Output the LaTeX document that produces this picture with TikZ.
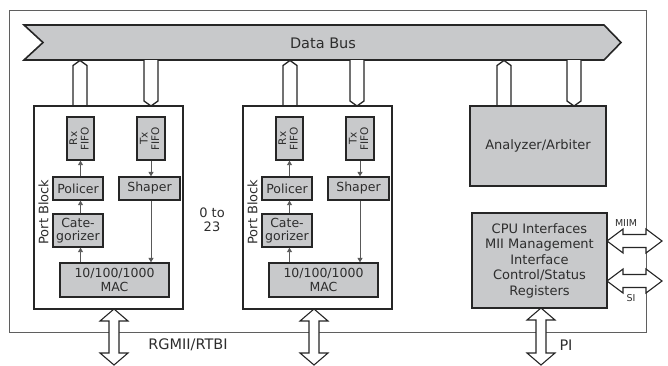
\documentclass[tikz,border=0pt]{standalone}
\usepackage{fontspec}
\setmainfont{DejaVu Sans}
\usepackage{graphicx}
\usetikzlibrary{arrows.meta}
\definecolor{boxgray}{RGB}{200,201,203}
\definecolor{txt}{RGB}{45,45,45}
\definecolor{framegray}{RGB}{95,95,95}
\tikzset{
  box/.style={draw=black!85, line width=1.3pt, fill=boxgray, inner sep=0pt, align=center, text=txt, font=\fontsize{12.5}{13.5}\selectfont},
  blockbox/.style={draw=black!85, line width=1.1pt, fill=white, inner sep=0pt},
  flow/.style={draw=black!65, line width=0.9pt, -{Triangle[length=4.5pt,width=5pt]}},
  busarr/.style={draw=black!85, line width=1.3pt, fill=white},
  dblarr/.style={draw=black!85, line width=1.1pt, fill=white},
  lbl/.style={inner sep=0pt, text=txt, align=center, font=\fontsize{13}{14}\selectfont},
  small/.style={inner sep=0pt, text=txt, font=\fontsize{9.5}{10}\selectfont},
}
\newcommand\busUp[3]{\filldraw[busarr] (#1,#3) -- (#1,#2+5) -- (#1+7,#2) -- (#1+14,#2+5) -- (#1+14,#3);}
\newcommand\busDown[3]{\filldraw[busarr] (#1,#2) -- (#1,#3-5) -- (#1+7,#3) -- (#1+14,#3-5) -- (#1+14,#2);}
\newcommand\vdarrow[3]{\filldraw[dblarr] (#1-5,#2+12) -- (#1-14,#2+12) -- (#1,#2) -- (#1+14,#2+12) -- (#1+5,#2+12) -- (#1+5,#3-12) -- (#1+14,#3-12) -- (#1,#3) -- (#1-14,#3-12) -- (#1-5,#3-12) -- cycle;}
\newcommand\hdarrow[3]{\filldraw[dblarr] (#1,#3) -- (#1+16,#3-12) -- (#1+16,#3-6.5) -- (#2-16,#3-6.5) -- (#2-16,#3-12) -- (#2,#3) -- (#2-16,#3+12) -- (#2-16,#3+6.5) -- (#1+16,#3+6.5) -- (#1+16,#3+12) -- cycle;}
\newcommand\fifo[2]{\rotatebox[origin=c]{90}{\fontsize{10.5}{11.5}\selectfont\begin{tabular}{@{}c@{}}#1\\#2\end{tabular}}}
\begin{document}
\begin{tikzpicture}[x=1pt,y=-1pt]
\useasboundingbox (0,0) rectangle (668,365);
% outer frame
\draw[framegray, line width=1pt] (9,10) rectangle (646,332);
% data bus
\filldraw[draw=black!85, line width=1.6pt, fill=boxgray, line join=miter] (24,25) -- (604,25) -- (621,42.5) -- (604,60) -- (24,60) -- (43,42.5) -- cycle;
\node[lbl, font=\fontsize{14.5}{15}\selectfont] (bus) at (323,43) {Data Bus};
% bus connectors
\busUp{73}{60.5}{106}
\busDown{144}{60}{106}
\busUp{283}{60.5}{106}
\busDown{350}{60}{106}
\busUp{497}{60.5}{106}
\busDown{567}{60}{106}
% port blocks
\foreach \i/\dx in {1/0,2/209}{
  \begin{scope}[xshift=\dx]
  \node[blockbox, minimum width=149pt, minimum height=203pt] (pb\i) at (108.5,207.5) {};
  \node[box, minimum width=27pt, minimum height=43pt] (rx\i) at (80.5,138.5) {\fifo{Rx}{FIFO}};
  \node[box, minimum width=28pt, minimum height=43pt] (tx\i) at (151,138.5) {\fifo{Tx}{FIFO}};
  \node[box, minimum width=50pt, minimum height=23pt] (pol\i) at (78,188.5) {Policer};
  \node[box, minimum width=61pt, minimum height=23pt] (sh\i) at (149.5,188.5) {Shaper};
  \node[box, minimum width=50pt, minimum height=33pt] (cat\i) at (78,230.5) {Cate-\\gorizer};
  \node[box, minimum width=109pt, minimum height=34pt] (mac\i) at (114.5,280) {10/100/1000\\MAC};
  \node[lbl, rotate=90] (pbl\i) at (43.5,212) {Port Block};
  \draw[flow] (rx\i.center |- cat\i.north) -- (rx\i.center |- pol\i.south);
  \draw[flow] (rx\i.center |- pol\i.north) -- (rx\i.south);
  \draw[flow] (rx\i.center |- mac\i.north) -- (rx\i.center |- cat\i.south);
  \draw[flow] (tx\i.center |- tx\i.south) -- (tx\i.center |- sh\i.north);
  \draw[flow] (tx\i.center |- sh\i.south) -- (tx\i.center |- mac\i.north);
  \end{scope}
}
\node[lbl] (range) at (212,219.5) {0 to\\23};
% analyzer and cpu
\node[box, font=\fontsize{13}{14}\selectfont, minimum width=136pt, minimum height=80pt] (ana) at (538,146) {Analyzer/Arbiter};
\node[box, font=\fontsize{13}{15.5}\selectfont, minimum width=135pt, minimum height=95pt] (cpu) at (539.5,260.5) {CPU Interfaces\\MII Management\\Interface\\Control/Status\\Registers};
% external interfaces
\hdarrow{607}{662}{241}
\hdarrow{607}{662}{281}
\node[small] (miim) at (626,223) {MIIM};
\node[small] (si) at (631,298.5) {SI};
\vdarrow{114}{309}{365}
\vdarrow{314}{309}{365}
\vdarrow{541}{308}{365}
\node[lbl, font=\fontsize{14.5}{15}\selectfont] (rgmii) at (188,345) {RGMII/RTBI};
\node[lbl, font=\fontsize{14.5}{15}\selectfont] (pi) at (566,345) {PI};
\end{tikzpicture}
\end{document}
